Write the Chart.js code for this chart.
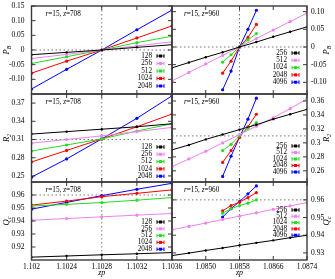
<!DOCTYPE html>
<html>
<head>
<meta charset="utf-8">
<script src="https://cdn.jsdelivr.net/npm/chart.js@4.4.1/dist/chart.umd.min.js"></script>
<style>
  html, body { margin: 0; padding: 0; background: #fff; }
  #wrap { position: relative; width: 335px; height: 279px; }
  #wrap canvas { position: absolute; left: 0; top: 0; }
</style>
</head>
<body>
<div id="wrap">
  <canvas id="c0" width="335" height="279"></canvas>
  <canvas id="c1" width="335" height="279"></canvas>
  <canvas id="c2" width="335" height="279"></canvas>
  <canvas id="c3" width="335" height="279"></canvas>
  <canvas id="c4" width="335" height="279"></canvas>
  <canvas id="c5" width="335" height="279"></canvas>
</div>
<script>
// system sizes, left column (z=708) and right column (z=960)
const sizesLeft = [128, 256, 512, 1024, 2048];
const sizesRight = [256, 512, 1024, 2048, 4096];
const colours = ['#000000', '#ee82ee', '#22dd22', '#ff0000', '#0000ff'];

// zp values
const zpLeft = [1.102, 1.1024, 1.1028, 1.1032, 1.1036];
const zpRightWide = [1.0842, 1.0846, 1.0850, 1.0854, 1.0858, 1.0862, 1.0866, 1.0870, 1.0874];
const zpRightNarrow = [1.0854, 1.0856, 1.0858, 1.0860, 1.0862];

// P_B
const pbLeft = [
  [-0.016, -0.008, 0.000, 0.009, 0.018],
  [-0.029, -0.015, 0.000, 0.014, 0.028],
  [-0.046, -0.023, 0.000, 0.025, 0.047],
  [-0.079, -0.038, 0.000, 0.041, 0.082],
  [-0.133, -0.066, 0.000, 0.069, 0.136],
];
const pbRight = [
  [-0.059, -0.044, -0.029, -0.015, 0.000, 0.014, 0.029, 0.043, 0.057],
  [-0.096, -0.072, -0.048, -0.024, 0.000, 0.024, 0.048, 0.072, 0.096],
  [-0.043, -0.022, 0.000, 0.020, 0.038],
  [-0.074, -0.040, 0.000, 0.027, 0.064],
  [-0.121, -0.068, 0.000, 0.050, 0.104],
];

// R_2
const r2Left = [
  [0.319, 0.323, 0.327, 0.331, 0.336],
  [0.304, 0.310, 0.316, 0.323, 0.330],
  [0.291, 0.301, 0.311, 0.324, 0.336],
  [0.273, 0.292, 0.311, 0.331, 0.352],
  [0.248, 0.278, 0.311, 0.345, 0.382],
];
const r2Right = [
  [0.290, 0.297, 0.305, 0.312, 0.319, 0.326, 0.334, 0.341, 0.348],
  [0.266, 0.277, 0.288, 0.300, 0.312, 0.324, 0.336, 0.349, 0.363],
  [0.289, 0.298, 0.310, 0.321, 0.329],
  [0.272, 0.289, 0.308, 0.323, 0.341],
  [0.252, 0.281, 0.308, 0.334, 0.364],
];

// Q_c
const qcLeft = [
  [0.9122, 0.9131, 0.9140, 0.9148, 0.9157],
  [0.9406, 0.9419, 0.9432, 0.9445, 0.9458],
  [0.9515, 0.9528, 0.9542, 0.9560, 0.9580],
  [0.9522, 0.9553, 0.9587, 0.9613, 0.9639],
  [0.9491, 0.9543, 0.9595, 0.9644, 0.9690],
];
const qcRight = [
  [0.9285, 0.9299, 0.9314, 0.9328, 0.9343, 0.9357, 0.9371, 0.9386, 0.9400],
  [0.9431, 0.9450, 0.9469, 0.9489, 0.9508, 0.9527, 0.9546, 0.9566, 0.9585],
  [0.9525, 0.9550, 0.9568, 0.9581, 0.9600],
  [0.9538, 0.9568, 0.9587, 0.9613, 0.9641],
  [0.9503, 0.9550, 0.9590, 0.9634, 0.9679],
];

// tick labels
const xTicksLeft = ['1.102', '1.1024', '1.1028', '1.1032', '1.1036'];
const xTicksRight = ['1.0850', '1.0858', '1.0866', '1.0874'];
const pbTicksLeft = ['0.15', '0.10', '0.05', '0', '-0.05', '-0.10'];
const pbTicksRight = ['0.10', '0.05', '0', '-0.05', '-0.10'];
const r2TicksLeft = ['0.37', '0.34', '0.31', '0.28', '0.25'];
const r2TicksRight = ['0.36', '0.34', '0.32', '0.3', '0.28', '0.26'];
const qcTicksLeft = ['0.96', '0.95', '0.94', '0.93', '0.92'];
const qcTicksRight = ['0.96', '0.95', '0.94', '0.93'];

const SERIF = "'Liberation Serif', 'DejaVu Serif', serif";
const W = 335, H = 279;
const xsRight = [zpRightWide, zpRightWide, zpRightNarrow, zpRightNarrow, zpRightNarrow];
const xsLeft = [zpLeft, zpLeft, zpLeft, zpLeft, zpLeft];

const panels = [
  { id: 'c0', rect: [31.5, 6, 172, 94], side: 'left', xs: xsLeft, ys: pbLeft, names: sizesLeft,
    xr: [1.102, 1.1036], yr: [-0.15, 0.15], xt: xTicksLeft, yt: pbTicksLeft, ref: [1.1028, 0],
    z: '708', title: ['P', 'B'], leg: [56, 7.5] },
  { id: 'c1', rect: [172, 6, 307, 94], side: 'right', xs: xsRight, ys: pbRight, names: sizesRight,
    xr: [1.0842, 1.0874], yr: [-0.133, 0.116], xt: xTicksRight, yt: pbTicksRight, ref: [1.0858, 0],
    z: '960', title: ['P', 'B'], leg: [53, 7.3] },
  { id: 'c2', rect: [31.5, 94, 172, 182], side: 'left', xs: xsLeft, ys: r2Left, names: sizesLeft,
    xr: [1.102, 1.1036], yr: [0.24, 0.385], xt: xTicksLeft, yt: r2TicksLeft, ref: [1.1028, 0.31],
    z: '708', title: ['R', '2'], leg: [147, 7.3] },
  { id: 'c3', rect: [172, 94, 307, 182], side: 'right', xs: xsRight, ys: r2Right, names: sizesRight,
    xr: [1.0842, 1.0874], yr: [0.244, 0.37], xt: xTicksRight, yt: r2TicksRight, ref: [1.0858, 0.31],
    z: '960', title: ['R', '2'], leg: [146, 6.5] },
  { id: 'c4', rect: [31.5, 182, 172, 260], side: 'left', xs: xsLeft, ys: qcLeft, names: sizesLeft,
    xr: [1.102, 1.1036], yr: [0.91, 0.97], xt: xTicksLeft, yt: qcTicksLeft, ref: [1.1028, 0.96],
    z: '708', title: ['Q', 'c'], leg: [222, 6.8], bottom: true },
  { id: 'c5', rect: [172, 182, 307, 260], side: 'right', xs: xsRight, ys: qcRight, names: sizesRight,
    xr: [1.0842, 1.0874], yr: [0.926, 0.9701], xt: xTicksRight, yt: qcTicksRight, ref: [1.0858, 0.96],
    z: '960', title: ['Q', 'c'], leg: [210, 6.3], bottom: true },
];

function labelFor(list, v) {
  const hit = list.find(s => Math.abs(Number(s) - v) < 1e-7);
  return hit === undefined ? '' : hit;
}

function drawRich(ctx, parts, x, y, size) {
  let cx = x;
  parts.forEach(([txt, italic]) => {
    ctx.font = (italic ? 'italic ' : '') + size + 'px ' + SERIF;
    ctx.fillText(txt, cx, y);
    cx += ctx.measureText(txt).width;
  });
}

function deco(p) {
  return {
    id: 'deco',
    beforeDatasetsDraw(chart) {
      const { ctx, chartArea: a, scales: { x, y } } = chart;
      const px = x.getPixelForValue(p.ref[0]), py = y.getPixelForValue(p.ref[1]);
      ctx.save();
      ctx.strokeStyle = '#555';
      ctx.lineWidth = 0.8;
      ctx.setLineDash([1.5, 2.5]);
      ctx.beginPath();
      ctx.moveTo(px, a.top); ctx.lineTo(px, a.bottom);
      ctx.moveTo(a.left, py); ctx.lineTo(a.right, py);
      ctx.stroke();
      ctx.restore();
    },
    afterDraw(chart) {
      const { ctx, chartArea: a, scales: { x, y } } = chart;
      ctx.save();
      // inward tick marks on all four sides
      ctx.strokeStyle = '#222';
      ctx.lineWidth = 0.9;
      ctx.beginPath();
      y.ticks.forEach(t => {
        const py = y.getPixelForValue(t.value);
        ctx.moveTo(a.left, py); ctx.lineTo(a.left + 4, py);
        ctx.moveTo(a.right, py); ctx.lineTo(a.right - 4, py);
      });
      x.ticks.forEach(t => {
        const px = x.getPixelForValue(t.value);
        ctx.moveTo(px, a.top); ctx.lineTo(px, a.top + 4);
        ctx.moveTo(px, a.bottom); ctx.lineTo(px, a.bottom - 4);
      });
      ctx.stroke();
      // frame
      ctx.strokeStyle = '#3a3a3a';
      ctx.lineWidth = 1.4;
      ctx.strokeRect(a.left, a.top, a.right - a.left, a.bottom - a.top);

      // legend with errorbar symbols
      ctx.fillStyle = '#000';
      ctx.textAlign = 'right';
      ctx.textBaseline = 'middle';
      chart.data.datasets.forEach((ds, i) => {
        const ly = p.leg[0] + i * p.leg[1];
        ctx.font = '7.2px ' + SERIF;
        ctx.fillStyle = '#000';
        ctx.fillText(ds.label, a.right - 20, ly);
        const x0 = a.right - 15, x1 = a.right - 8;
        ctx.strokeStyle = ds.borderColor;
        ctx.lineWidth = 1;
        ctx.beginPath();
        ctx.moveTo(x0, ly); ctx.lineTo(x1, ly);
        ctx.moveTo(x0, ly - 1.8); ctx.lineTo(x0, ly + 1.8);
        ctx.moveTo(x1, ly - 1.8); ctx.lineTo(x1, ly + 1.8);
        ctx.stroke();
        ctx.fillStyle = ds.borderColor;
        ctx.fillRect((x0 + x1) / 2 - 1.5, ly - 1.5, 3, 3);
      });

      // r=15, z=... note
      ctx.fillStyle = '#000';
      ctx.textAlign = 'left';
      ctx.textBaseline = 'middle';
      drawRich(ctx, [['r', true], ['=15, ', false], ['z', true], ['=' + p.z, false]],
        a.left + (p.side === 'left' ? 14 : 12), a.top + 8, 7.2);

      // y title, rotated
      const tx = p.side === 'left' ? 7 : 327;
      const ty = (a.top + a.bottom) / 2;
      ctx.save();
      ctx.translate(tx, ty);
      ctx.rotate(-Math.PI / 2);
      ctx.font = 'italic 8.5px ' + SERIF;
      const mw = ctx.measureText(p.title[0]).width;
      ctx.font = 'italic 6px ' + SERIF;
      const sw = ctx.measureText(p.title[1]).width;
      const sx = -(mw + sw) / 2;
      ctx.font = 'italic 8.5px ' + SERIF;
      ctx.fillText(p.title[0], sx, 0);
      ctx.font = 'italic 6px ' + SERIF;
      ctx.fillText(p.title[1], sx + mw, 2.5);
      ctx.restore();

      // x title
      if (p.bottom) {
        ctx.textAlign = 'center';
        ctx.font = 'italic 8px ' + SERIF;
        ctx.fillText('zp', (a.left + a.right) / 2, 273);
      }
      ctx.restore();
    }
  };
}

function zeroPad(s) { s.paddingLeft = 0; s.paddingRight = 0; s.paddingTop = 0; s.paddingBottom = 0; }

panels.forEach(p => {
  const [l, t, r, b] = p.rect;
  const yW = 30, xH = p.bottom ? 14 : 0;
  const padding = {
    top: t,
    bottom: H - b - xH,
    left: p.side === 'left' ? l - yW : l,
    right: p.side === 'left' ? W - r : W - r - yW,
  };
  const datasets = p.ys.map((vals, i) => ({
    label: String(p.names[i]),
    data: vals.map((v, j) => ({ x: p.xs[i][j], y: v })),
    borderColor: colours[i],
    backgroundColor: colours[i],
    borderWidth: 1,
    pointRadius: i === 0 ? 1.2 : 1.6,
    pointBorderWidth: 0,
    pointStyle: 'circle',
    tension: 0,
  }));
  new Chart(document.getElementById(p.id), {
    type: 'line',
    data: { datasets },
    options: {
      responsive: false,
      animation: false,
      events: [],
      layout: { padding, autoPadding: false },
      plugins: { legend: { display: false }, tooltip: { enabled: false } },
      scales: {
        x: {
          type: 'linear', min: p.xr[0], max: p.xr[1],
          grid: { display: false, drawTicks: false }, border: { display: false },
          afterBuildTicks: s => { s.ticks = p.xt.map(v => ({ value: Number(v) })); },
          afterFit: s => { s.height = xH; zeroPad(s); },
          ticks: {
            display: !!p.bottom, autoSkip: false, maxRotation: 0, minRotation: 0, padding: 3,
            color: '#000', font: { family: SERIF, size: 7.5 },
            callback: v => labelFor(p.xt, v),
          },
        },
        y: {
          type: 'linear', position: p.side, min: p.yr[0], max: p.yr[1],
          grid: { display: false, drawTicks: false }, border: { display: false },
          afterBuildTicks: s => { s.ticks = p.yt.map(v => ({ value: Number(v) })); },
          afterFit: s => { s.width = yW; zeroPad(s); },
          ticks: {
            autoSkip: false, padding: p.side === 'left' ? 7 : 4,
            color: '#000', font: { family: SERIF, size: 7.5 },
            callback: v => labelFor(p.yt, v),
          },
        },
      },
    },
    plugins: [deco(p)],
  });
});
</script>
</body>
</html>
